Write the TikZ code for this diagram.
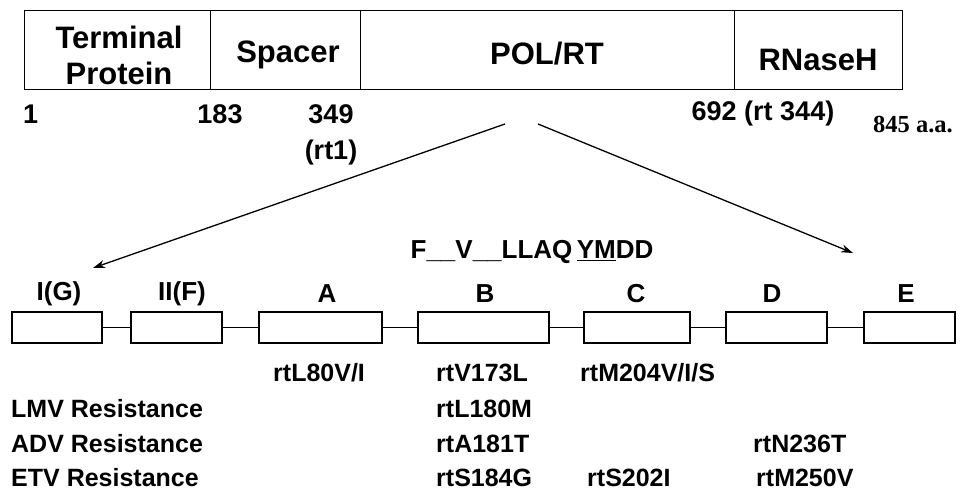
\documentclass[tikz,border=0pt]{standalone}
\usepackage{fontspec}
\setmainfont{Liberation Sans}
\newfontfamily\timesf{Liberation Serif}
\usetikzlibrary{arrows.meta}
\begin{document}
\begin{tikzpicture}[x=1pt,y=-1pt,
  seg/.style={draw, line width=1pt, inner sep=0pt, align=center},
  dom/.style={draw, line width=1.1pt, inner sep=0pt, minimum height=31pt},
  toplab/.style={font=\bfseries\fontsize{31}{36}\selectfont, align=center, inner sep=0pt},
  numlab/.style={font=\bfseries\fontsize{27}{29}\selectfont, inner sep=0pt},
  domlab/.style={font=\bfseries\fontsize{26}{28}\selectfont, inner sep=0pt},
  mutlab/.style={font=\bfseries\fontsize{25}{27}\selectfont, inner sep=0pt, anchor=west},
  link/.style={line width=1pt},
  zoomarrow/.style={line width=1.3pt, -{Stealth[length=12pt,width=8pt]}}]
\useasboundingbox (0,0) rectangle (971,492);
% top bar
\node[seg, minimum width=186pt, minimum height=79pt] (tp) at (117,50.5) {};
\node[seg, minimum width=150pt, minimum height=79pt] (sp) at (285,50.5) {};
\node[seg, minimum width=374pt, minimum height=79pt] (pol) at (547,50.5) {};
\node[seg, minimum width=168pt, minimum height=79pt] (rh) at (818,50.5) {};
\node[toplab] (tpt) at (119,55) {Terminal\\Protein};
\node[toplab] (spt) at (288,55) {Spacer};
\node[toplab] (polt) at (547,54) {POL/RT};
\node[toplab] (rht) at (818,60) {RNaseH};
% numbers
\node[numlab, anchor=west] (n1) at (23,114) {1};
\node[numlab] (n183) at (220,114) {183};
\node[numlab] (n349) at (331,114) {349};
\node[numlab] (nrt1) at (331,153) {(rt1)};
\node[numlab] (n692) at (763,114) {692 (rt 344)};
\node[font=\timesf\bfseries\fontsize{24.5}{26}\selectfont, inner sep=0pt, anchor=west] (n845) at (873,125) {845 a.a.};
% arrows
\coordinate (sl) at (505,124);
\coordinate (sr) at (538,124);
\coordinate (tl) at (93,268);
\coordinate (tr) at (853,253);
\draw[zoomarrow] (sl) -- (tl);
\draw[zoomarrow] (sr) -- (tr);
% motif
\node[domlab] (motif) at (532,252) {F\_\_V\_\_LLAQ\,\underline{YM}DD};
% domains
\node[dom, minimum width=90pt] (dG) at (57,327.5) {};
\node[dom, minimum width=91pt] (dF) at (176.5,327.5) {};
\node[dom, minimum width=123pt] (dA) at (320.5,327.5) {};
\node[dom, minimum width=131pt] (dB) at (483.5,327.5) {};
\node[dom, minimum width=106pt] (dC) at (637,327.5) {};
\node[dom, minimum width=101pt] (dD) at (776.5,327.5) {};
\node[dom, minimum width=91pt] (dE) at (909.5,327.5) {};
\draw[link] (dG.east) -- (dF.west);
\draw[link] (dF.east) -- (dA.west);
\draw[link] (dA.east) -- (dB.west);
\draw[link] (dB.east) -- (dC.west);
\draw[link] (dC.east) -- (dD.west);
\draw[link] (dD.east) -- (dE.west);
\node[domlab] (lG) at (59,294) {I(G)};
\node[domlab] (lF) at (182,294) {II(F)};
\node[domlab] (lA) at (327,294) {A};
\node[domlab] (lB) at (485,294) {B};
\node[domlab] (lC) at (636,294) {C};
\node[domlab] (lD) at (772,294) {D};
\node[domlab] (lE) at (906,294) {E};
% mutations
\node[mutlab] (m80) at (273,373) {rtL80V/I};
\node[mutlab] (m173) at (436,373) {rtV173L};
\node[mutlab] (m204) at (580,373) {rtM204V/I/S};
\node[mutlab] (lmv) at (11,409) {LMV Resistance};
\node[mutlab] (m180) at (436,409) {rtL180M};
\node[mutlab] (adv) at (11,444) {ADV Resistance};
\node[mutlab] (m181) at (436,444) {rtA181T};
\node[mutlab] (m236) at (753,444) {rtN236T};
\node[mutlab] (etv) at (11,478) {ETV Resistance};
\node[mutlab] (m184) at (436,478) {rtS184G};
\node[mutlab] (m202) at (587,478) {rtS202I};
\node[mutlab] (m250) at (756,478) {rtM250V};
\end{tikzpicture}
\end{document}
